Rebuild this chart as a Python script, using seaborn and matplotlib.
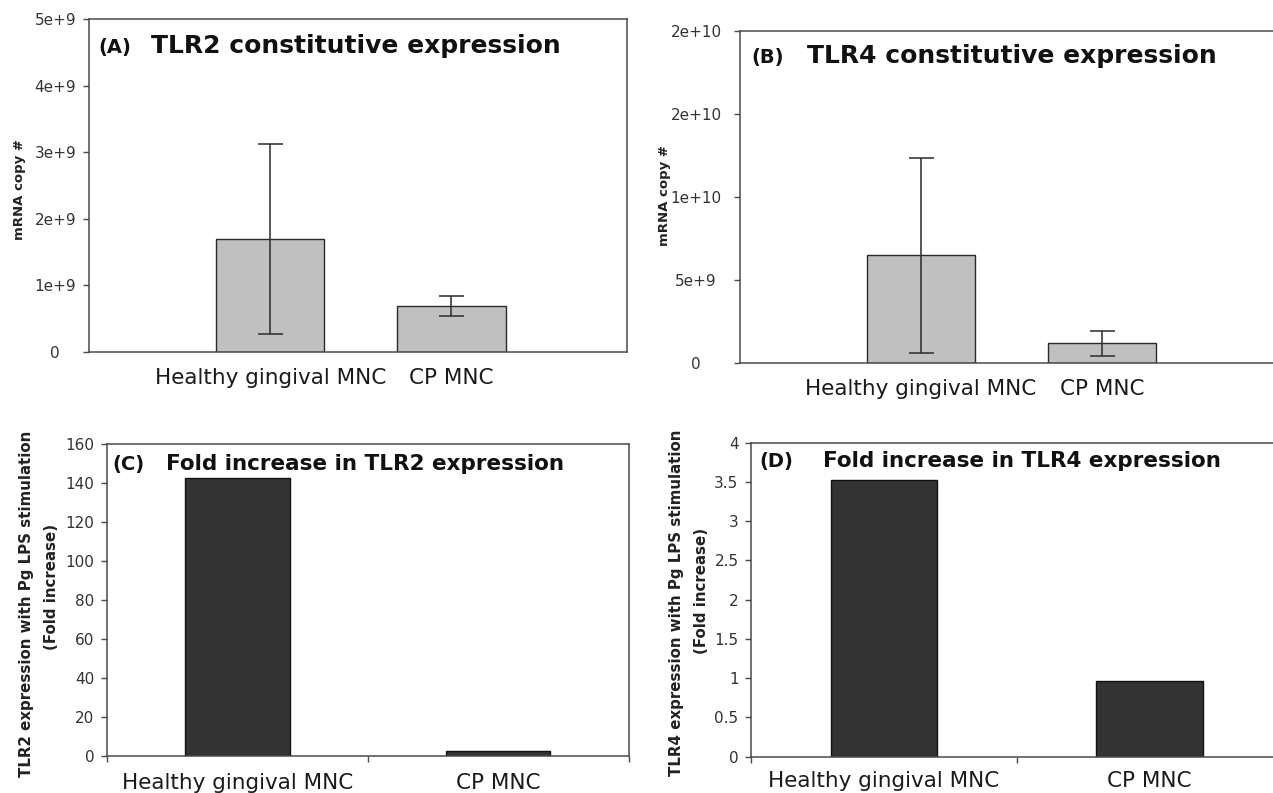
import numpy as np
import seaborn as sns
import matplotlib.pyplot as plt

# data
groups = ['Healthy gingival MNC', 'CP MNC']
tlr2_copies = [1.69e9, 0.68e9]
tlr2_err = [1.43e9, 0.15e9]
tlr4_copies = [6.49e9, 1.21e9]
tlr4_err = [5.86e9, 0.75e9]
tlr2_fold = [142.5, 2.5]
tlr4_fold = [3.53, 0.96]

ticks_a = [0, 1e9, 2e9, 3e9, 4e9, 5e9]
labels_a = ['0', '1e+9', '2e+9', '3e+9', '4e+9', '5e+9']
ticks_b = [0, 5e9, 10e9, 15e9, 20e9]
labels_b = ['0', '5e+9', '1e+10', '2e+10', '2e+10']
ticks_c = [0, 20, 40, 60, 80, 100, 120, 140, 160]
ticks_d = [0, 0.5, 1, 1.5, 2, 2.5, 3, 3.5, 4]
labels_d = ['0', '0.5', '1', '1.5', '2', '2.5', '3', '3.5', '4']

sns.set_theme(style='white')
plt.rcParams['font.family'] = ['DejaVu Sans']

W, H = 1273, 793
fig = plt.figure(figsize=(W / 100, H / 100), dpi=100)


def rect(l, t, r, b):
    return [l / W, 1 - b / H, (r - l) / W, (b - t) / H]


def px(x, y):
    return x / W, 1 - y / H


def frame(ax):
    for s in ax.spines.values():
        s.set_visible(True)
        s.set_color('#4a4a4a')
        s.set_linewidth(1.1)


ax_a = fig.add_axes(rect(89, 19, 627, 351.7))
ax_b = fig.add_axes(rect(740, 30.7, 1283, 363.3))
ax_c = fig.add_axes(rect(107, 444, 628.6, 755.7))
ax_d = fig.add_axes(rect(751, 442.7, 1282.4, 756.7))

# top panels: constitutive expression with error bars
for ax, vals, errs, ticks, labels, lim, xl, ypad, xpad in [
        (ax_a, tlr2_copies, tlr2_err, ticks_a, labels_a, (-1.0, 1.97), 5e9, 20, 6),
        (ax_b, tlr4_copies, tlr4_err, ticks_b, labels_b, (-1.0, 2.0), 20e9, 27.4, 5.5)]:
    sns.barplot(x=groups, y=vals, ax=ax, color='#c0c0c0', saturation=1,
                width=0.6, edgecolor='#2a2a2a', linewidth=1.0)
    ax.errorbar(np.arange(len(groups)), vals, yerr=errs, fmt='none',
                ecolor='#2a2a2a', elinewidth=1.1, capsize=9, capthick=1.1, zorder=3)
    ax.set_xlim(*lim)
    ax.set_ylim(0, xl)
    ax.set_yticks(ticks)
    ax.set_yticklabels(labels)
    frame(ax)
    ax.tick_params(axis='y', left=True, length=4.3, width=1, color='#4a4a4a',
                   direction='out', labelsize=11, labelcolor='#333333', pad=ypad)
    for t in ax.get_yticklabels():
        t.set_horizontalalignment('center')
    ax.tick_params(axis='x', bottom=False, labelsize=15.5, labelcolor='#1a1a1a', pad=xpad)
    ax.set_xlabel('')
    ax.set_ylabel('')

# bottom panels: fold increase
for ax, vals, ticks, labels, top, xpad in [
        (ax_c, tlr2_fold, ticks_c, [str(t) for t in ticks_c], 160, 6.5),
        (ax_d, tlr4_fold, ticks_d, labels_d, 4, 4)]:
    sns.barplot(x=groups, y=vals, ax=ax, color='#333333', saturation=1,
                width=0.4, edgecolor='#111111', linewidth=1.0)
    ax.set_xlim(-0.5, 1.5)
    ax.set_ylim(0, top)
    ax.set_yticks(ticks)
    ax.set_yticklabels(labels)
    ax.set_xticks([-0.5, 0.5, 1.5], minor=True)
    frame(ax)
    ax.tick_params(axis='y', left=True, length=4, width=1, color='#4a4a4a',
                   direction='out', labelsize=11, labelcolor='#333333', pad=5)
    ax.tick_params(axis='x', which='major', bottom=False, labelsize=15.5,
                   labelcolor='#1a1a1a', pad=xpad)
    ax.tick_params(axis='x', which='minor', bottom=True, length=4, width=1,
                   color='#4a4a4a', direction='out')
    ax.set_xlabel('')
    ax.set_ylabel('')

# panel titles
titles = [
    ('(A)', 98, 'TLR2 constitutive expression', 151, 53, 18),
    ('(B)', 751, 'TLR4 constitutive expression', 807, 63, 18),
    ('(C)', 112, 'Fold increase in TLR2 expression', 166, 470, 15.5),
    ('(D)', 759, 'Fold increase in TLR4 expression', 823, 467, 15.5),
]
for tag, tx, title, mx, base, size in titles:
    fig.text(*px(tx, base), tag, fontsize=14, fontweight='bold', va='baseline',
             ha='left', color='#111111')
    fig.text(*px(mx, base), title, fontsize=size, fontweight='bold', va='baseline',
             ha='left', color='#111111')

# y axis labels
fig.text(*px(20, 190), 'mRNA copy #', rotation=90, fontsize=9.5, fontweight='bold',
         ha='center', va='center', color='#222222')
fig.text(*px(665, 196), 'mRNA copy #', rotation=90, fontsize=9.5, fontweight='bold',
         ha='center', va='center', color='#222222')
fig.text(*px(27, 604), 'TLR2 expression with Pg LPS stimulation', rotation=90,
         fontsize=10.8, fontweight='bold', ha='center', va='center', color='#222222')
fig.text(*px(51, 587), '(Fold increase)', rotation=90,
         fontsize=10.8, fontweight='bold', ha='center', va='center', color='#222222')
fig.text(*px(677, 603), 'TLR4 expression with Pg LPS stimulation', rotation=90,
         fontsize=10.8, fontweight='bold', ha='center', va='center', color='#222222')
fig.text(*px(701, 591), '(Fold increase)', rotation=90,
         fontsize=10.8, fontweight='bold', ha='center', va='center', color='#222222')

fig.savefig('out.png', dpi=100)
